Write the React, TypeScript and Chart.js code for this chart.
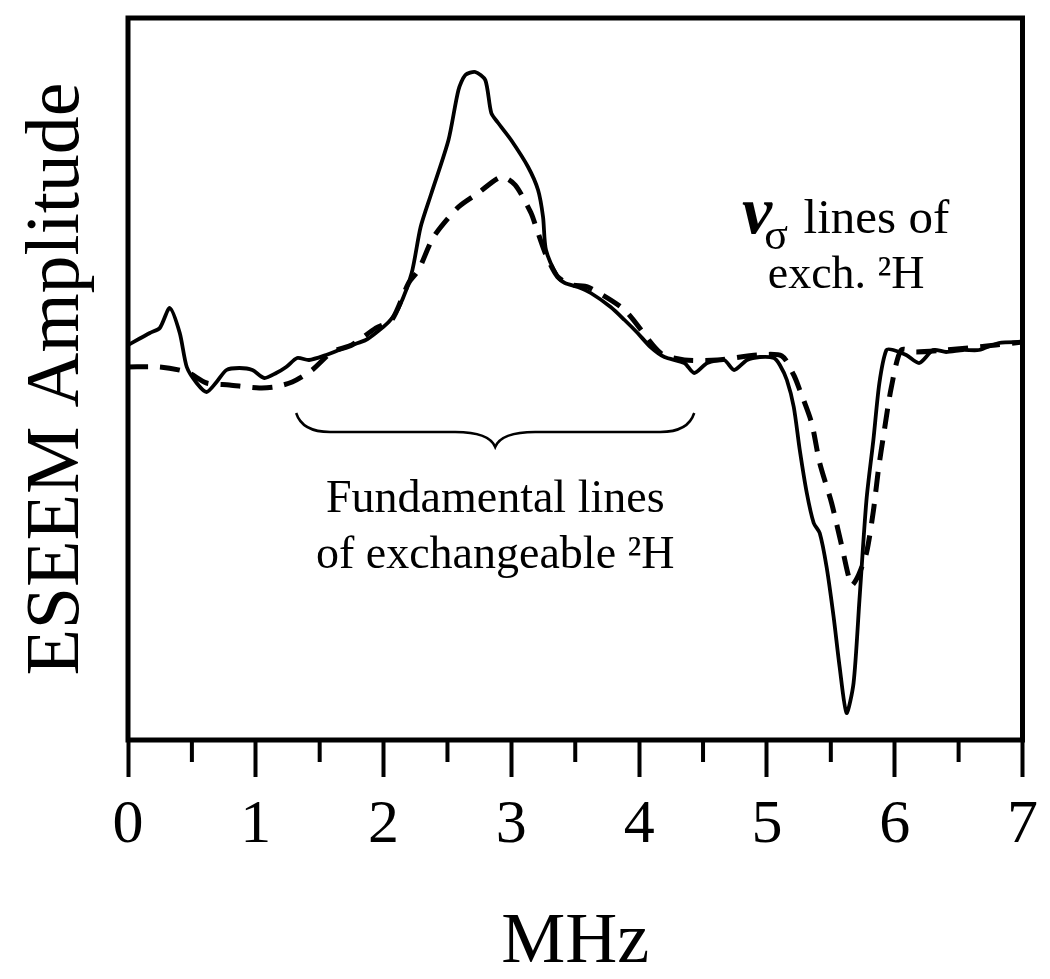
import React, { useEffect, useRef } from "react";
import { Chart, registerables } from "chart.js";

Chart.register(...registerables);

// ---------- data ----------
const solidMHz = [
  0.0, 0.171, 0.249, 0.327, 0.405, 0.46, 0.537, 0.615, 0.693, 0.771, 0.872, 0.973, 1.067, 1.16,
  1.238, 1.324, 1.417, 1.55, 1.651, 1.752, 1.861, 1.939, 2.04, 2.118, 2.22, 2.29, 2.375, 2.508,
  2.586, 2.64, 2.718, 2.796, 2.843, 2.897, 2.998, 3.131, 3.209, 3.248, 3.271, 3.364, 3.419, 3.52,
  3.621, 3.777, 3.886, 3.988, 4.089, 4.198, 4.354, 4.431, 4.533, 4.665, 4.743, 4.844, 4.945,
  5.055, 5.101, 5.156, 5.21, 5.257, 5.312, 5.366, 5.413, 5.467, 5.522, 5.569, 5.623, 5.678,
  5.724, 5.779, 5.833, 5.88, 5.935, 5.989, 6.09, 6.192, 6.301, 6.402, 6.534, 6.659, 6.815, 7.0,
];
const solidAmp = [
  0.5, 1.7, 2.2, 4.2, 1.7, -1.7, -3.3, -4.2, -3.2, -2.0, -1.8, -2.0, -2.8, -2.3,
  -1.7, -0.8, -1.0, -0.5, 0.0, 0.5, 1.0, 1.7, 2.8, 4.2, 7.7, 12.3, 15.7, 21.0,
  26.0, 27.5, 27.8, 27.0, 23.7, 22.7, 21.0, 18.3, 16.0, 13.3, 10.0, 7.3, 6.7, 6.3,
  5.7, 4.3, 3.0, 1.7, 0.3, -0.7, -1.3, -2.3, -1.3, -1.0, -2.0, -1.0, -0.7,
  -0.8, -1.5, -3.0, -5.7, -10.0, -14.3, -17.3, -18.3, -21.7, -26.7, -31.7, -36.3, -33.3,
  -25.0, -15.0, -9.0, -3.3, 0.0, 0.0, -0.5, -1.3, 0.0, -0.2, 0.0, 0.0, 0.7, 0.8,
];

const dashedMHz = [
  0.0, 0.249, 0.46, 0.615, 0.794, 1.028, 1.145, 1.285, 1.441, 1.597, 1.752, 1.939, 2.064,
  2.196, 2.274, 2.391, 2.586, 2.741, 2.921, 3.03, 3.154, 3.193, 3.271, 3.364, 3.481, 3.598,
  3.886, 4.167, 4.354, 4.611, 4.922, 5.117, 5.21, 5.257, 5.35, 5.413, 5.506, 5.584, 5.662,
  5.717, 5.779, 5.833, 5.872, 5.919, 5.974, 6.051, 6.168, 6.402, 6.791, 7.0,
];
const dashedAmp = [
  -1.7, -1.7, -2.2, -3.3, -3.5, -3.8, -3.7, -3.2, -2.0, -0.2, 0.5, 2.2, 3.0,
  6.7, 8.0, 11.3, 14.3, 15.7, 17.3, 16.5, 13.7, 12.3, 9.5, 7.3, 6.5, 6.3,
  4.0, -0.3, -1.0, -1.0, -0.5, -0.6, -2.5, -4.0, -7.3, -11.3, -15.3, -19.5, -23.5,
  -22.5, -20.3, -16.1, -12.0, -8.0, -3.7, 0.0, -0.2, 0.0, 0.5, 0.8,
];

const xTickLabels = ["0", "1", "2", "3", "4", "5", "6", "7"];
const minorTicks = [0.5, 1.5, 2.5, 3.5, 4.5, 5.5, 6.5];

// annotation anchors (data coordinates)
const braceSpan = { from: 1.316, to: 4.431, yEnd: -6.3, yFlat: -8.2, yTip: -9.7 };
const fundamentalText = { x: 2.874, lines: ["Fundamental lines", "of exchangeable \u00B2H"], y: [-16.2, -21.8] };
const nuText = { xLeft: 4.821, xRest: 5.287, y1: 11.7, xCenter2: 5.62, line2: "exch. \u00B2H", y2: 6.2 };

const FONT = '"Liberation Serif", "Times New Roman", Times, serif';

const annotationsPlugin = {
  id: "annotations",
  afterDatasetsDraw(chart: any) {
    const { ctx, chartArea, scales } = chart;
    const xs = scales.x;
    const ys = scales.y;
    ctx.save();
    ctx.strokeStyle = "#000";
    ctx.fillStyle = "#000";

    // frame
    ctx.lineWidth = 5;
    ctx.strokeRect(chartArea.left, chartArea.top, chartArea.right - chartArea.left, chartArea.bottom - chartArea.top);

    // minor ticks
    ctx.lineWidth = 4;
    minorTicks.forEach((v) => {
      const px = xs.getPixelForValue(v);
      ctx.beginPath();
      ctx.moveTo(px, chartArea.bottom);
      ctx.lineTo(px, chartArea.bottom + 22);
      ctx.stroke();
    });

    // brace
    const x0 = xs.getPixelForValue(braceSpan.from);
    const x1 = xs.getPixelForValue(braceSpan.to);
    const xm = (x0 + x1) / 2;
    const yE = ys.getPixelForValue(braceSpan.yEnd);
    const yF = ys.getPixelForValue(braceSpan.yFlat);
    const yT = ys.getPixelForValue(braceSpan.yTip);
    ctx.lineWidth = 2.5;
    ctx.beginPath();
    ctx.moveTo(x0, yE);
    ctx.quadraticCurveTo(x0 + 6, yF, x0 + 34, yF);
    ctx.lineTo(xm - 40, yF);
    ctx.quadraticCurveTo(xm - 6, yF, xm, yT);
    ctx.quadraticCurveTo(xm + 6, yF, xm + 40, yF);
    ctx.lineTo(x1 - 34, yF);
    ctx.quadraticCurveTo(x1 - 6, yF, x1, yE);
    ctx.stroke();

    // fundamental text
    ctx.font = `46px ${FONT}`;
    ctx.textAlign = "center";
    ctx.textBaseline = "alphabetic";
    const fx = xs.getPixelForValue(fundamentalText.x);
    fundamentalText.lines.forEach((t, i) => {
      ctx.fillText(t, fx, ys.getPixelForValue(fundamentalText.y[i]));
    });

    // nu_sigma text
    const ny1 = ys.getPixelForValue(nuText.y1);
    let sx = xs.getPixelForValue(nuText.xLeft);
    ctx.textAlign = "left";
    ctx.font = `italic bold 68px ${FONT}`;
    const wNu = ctx.measureText("\u03BD").width;
    ctx.fillText("\u03BD", sx - 2, ny1);
    sx += wNu - 10;
    ctx.font = `44px ${FONT}`;
    ctx.fillText("\u03C3", sx, ny1 + 16);
    ctx.font = `49px ${FONT}`;
    ctx.fillText("lines of", xs.getPixelForValue(nuText.xRest), ny1);
    ctx.font = `46px ${FONT}`;
    ctx.textAlign = "center";
    ctx.fillText(nuText.line2, xs.getPixelForValue(nuText.xCenter2), ys.getPixelForValue(nuText.y2));

    ctx.restore();
  },
};

export default function App() {
  const canvasRef = useRef<HTMLCanvasElement | null>(null);

  useEffect(() => {
    document.body.style.margin = "0";
    const canvas = canvasRef.current;
    if (!canvas) return;
    const chart = new Chart(canvas, {
      type: "line",
      data: {
        datasets: [
          {
            label: "solid",
            data: solidMHz.map((x, i) => ({ x, y: solidAmp[i] })),
            borderColor: "#000",
            borderWidth: 3.8,
            pointRadius: 0,
            tension: 0.25,
            fill: false,
          },
          {
            label: "dashed",
            data: dashedMHz.map((x, i) => ({ x, y: dashedAmp[i] })),
            borderColor: "#000",
            borderWidth: 5,
            borderDash: [20, 12],
            pointRadius: 0,
            tension: 0.25,
            fill: false,
          },
        ],
      },
      options: {
        animation: false,
        responsive: true,
        maintainAspectRatio: false,
        layout: { padding: { left: 0, right: 16, top: 18, bottom: 0 } },
        plugins: {
          legend: { display: false },
          tooltip: { enabled: false },
        },
        scales: {
          x: {
            type: "linear",
            min: 0,
            max: 7,
            ticks: {
              stepSize: 1,
              autoSkip: false,
              maxRotation: 0,
              padding: 12,
              color: "#000",
              font: { family: FONT, size: 62 },
              callback: (v: any) => xTickLabels[Math.round(Number(v))] ?? "",
            },
            grid: {
              display: true,
              drawOnChartArea: false,
              drawTicks: true,
              tickLength: 37,
              tickWidth: 4,
              tickColor: "#000",
            },
            border: { display: false },
            title: {
              display: true,
              text: "MHz",
              color: "#000",
              font: { family: FONT, size: 72 },
              padding: { top: 0, bottom: -7 },
            },
            afterFit: (s: any) => {
              s.height = 239;
            },
          },
          y: {
            min: -39,
            max: 33.2,
            ticks: { display: false },
            grid: { display: false },
            border: { display: false },
            title: {
              display: true,
              text: "ESEEM Amplitude",
              color: "#000",
              font: { family: FONT, size: 76 },
              padding: { top: 12, bottom: 0 },
            },
            afterFit: (s: any) => {
              s.width = 128;
            },
          },
        },
      },
      plugins: [annotationsPlugin],
    });
    return () => chart.destroy();
  }, []);

  return (
    <div style={{ width: 1050, height: 979, position: "relative", background: "#fff" }}>
      <canvas ref={canvasRef} />
    </div>
  );
}
